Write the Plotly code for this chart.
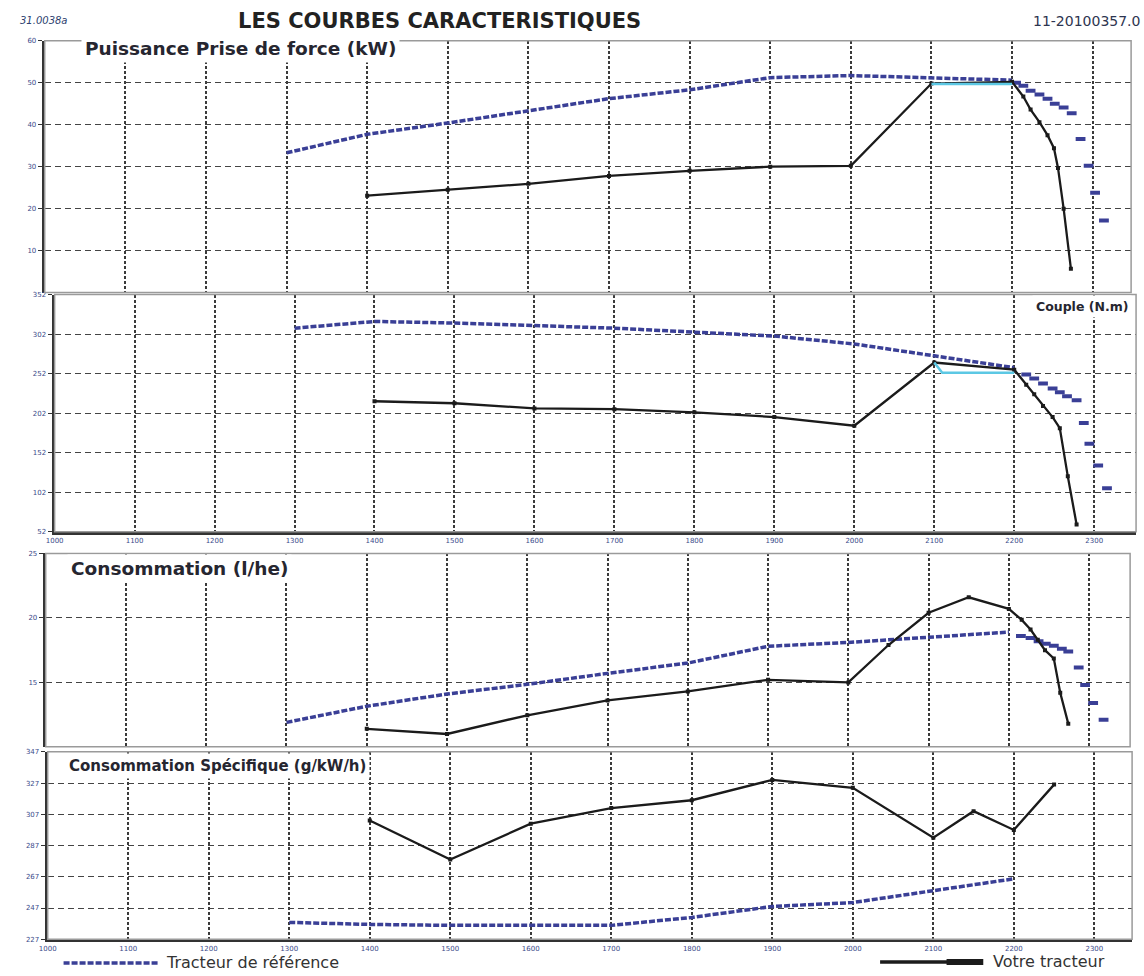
import plotly.graph_objects as go

W, H = 1144, 976

# ---------------- data ----------------
x_ticks = [1000, 1100, 1200, 1300, 1400, 1500, 1600, 1700, 1800, 1900, 2000, 2100, 2200, 2300]

# Panel 1 : Puissance Prise de force (kW)
p_ref_rpm = [1300, 1400, 1500, 1600, 1700, 1800, 1900, 2000, 2100, 2200,
             2205, 2214, 2223, 2234, 2244, 2253, 2264, 2274, 2285, 2295, 2303, 2314]
p_ref_val = [33.3, 37.7, 40.4, 43.2, 46.2, 48.3, 51.2, 51.7, 51.2, 50.6,
             50.0, 49.3, 48.1, 47.2, 46.2, 45.0, 44.1, 42.7, 36.6, 30.2, 23.8, 17.2]
p_you_rpm = [1400, 1500, 1600, 1700, 1800, 1900, 2000, 2100, 2200,
             2214, 2223, 2234, 2244, 2252, 2257, 2264, 2273]
p_you_val = [23.1, 24.5, 25.9, 27.8, 29.0, 30.0, 30.2, 49.8, 50.2,
             46.7, 43.6, 40.6, 37.5, 34.4, 29.7, 20.0, 5.7]
p_reg_rpm = [2100, 2200]
p_reg_val = [49.7, 49.7]

# Panel 2 : Couple (N.m)
c_ref_rpm = [1300, 1400, 1500, 1600, 1700, 1800, 1900, 2000, 2100, 2200,
             2215, 2225, 2236, 2248, 2257, 2266, 2278, 2287, 2294, 2305, 2316]
c_ref_val = [309.5, 318, 316, 313, 309.5, 304.5, 299.5, 289.5, 274.5, 259.5,
             250.8, 245.8, 239.5, 233.3, 228.3, 223.3, 218.3, 189.5, 163.3, 135.8, 107]
c_you_rpm = [1400, 1500, 1600, 1700, 1800, 1900, 2000, 2100, 2200,
             2215, 2225, 2236, 2248, 2257, 2267, 2278]
c_you_val = [217, 214.5, 208, 207, 203, 197, 186, 266, 257,
             238, 226, 211, 197, 183, 122, 61]
c_reg_rpm = [2100, 2110, 2200]
c_reg_val = [266, 253, 253]

# Panel 3 : Consommation (l/he)
l_ref_rpm = [1300, 1400, 1500, 1600, 1700, 1800, 1900, 2000, 2100, 2200,
             2215, 2227, 2237, 2246, 2256, 2266, 2274, 2287, 2295, 2305, 2318]
l_ref_val = [11.9, 13.15, 14.1, 14.85, 15.7, 16.5, 17.8, 18.1, 18.5, 18.9,
             18.6, 18.45, 18.2, 18.0, 17.85, 17.6, 17.4, 16.15, 14.8, 13.4, 12.1]
l_you_rpm = [1400, 1500, 1600, 1700, 1800, 1900, 2000, 2050, 2100, 2150, 2200,
             2216, 2227, 2236, 2245, 2256, 2264, 2274]
l_you_val = [11.4, 11.0, 12.45, 13.6, 14.3, 15.2, 15.0, 17.9, 20.4, 21.6, 20.7,
             19.85, 19.1, 18.3, 17.5, 16.85, 14.2, 11.8]

# Panel 4 : Consommation Spécifique (g/kW/h)
s_ref_rpm = [1300, 1400, 1500, 1600, 1700, 1800, 1900, 2000, 2100, 2200]
s_ref_val = [237.8, 236.5, 235.9, 235.9, 235.9, 241, 248, 250.5, 258, 265.7]
s_you_rpm = [1400, 1500, 1600, 1700, 1800, 1900, 2000, 2100, 2150, 2200, 2250]
s_you_val = [303, 278, 301, 311, 316, 329, 324, 292, 309, 297, 326]

p_yticks = [10, 20, 30, 40, 50, 60]
c_yticks = [52, 102, 152, 202, 252, 302, 352]
l_yticks = [15, 20, 25]
s_yticks = [227, 247, 267, 287, 307, 327, 347]

panel_titles = ["Puissance Prise de force (kW)", "Couple (N.m)",
                "Consommation (l/he)", "Consommation Spécifique (g/kW/h)"]

# ---------------- style ----------------
REF = "#3a3f96"
YOU = "#1b1b1b"
REG = "#5cc8e4"
FONT = "DejaVu Sans, Liberation Sans, Arial, sans-serif"
TICKC = "#3a4a8a"

panels = [
    dict(x0=36, x1=1131, scale=0.8125, ytop=37, ybot=291, yr=[0, 60], ytv=p_yticks, xlab=False,
         ref=(p_ref_rpm, p_ref_val), you=(p_you_rpm, p_you_val), reg=(p_reg_rpm, p_reg_val)),
    dict(x0=46, x1=1136, scale=0.806, ytop=293, ybot=532, yr=[52, 352], ytv=c_yticks, xlab=True,
         ref=(c_ref_rpm, c_ref_val), you=(c_you_rpm, c_you_val), reg=(c_reg_rpm, c_reg_val)),
    dict(x0=37, x1=1130, scale=0.809, ytop=554, ybot=749, yr=[10, 25], ytv=l_yticks, xlab=False,
         ref=(l_ref_rpm, l_ref_val), you=(l_you_rpm, l_you_val), reg=None),
    dict(x0=39, x1=1132, scale=0.8115, ytop=754, ybot=943, yr=[227, 347], ytv=s_yticks, xlab=True,
         ref=(s_ref_rpm, s_ref_val), you=(s_you_rpm, s_you_val), reg=None),
]

fig = go.Figure()
layout = dict(
    width=W, height=H, margin=dict(l=0, r=0, t=0, b=0),
    paper_bgcolor="white", plot_bgcolor="white", showlegend=False,
    font=dict(family=FONT, color="#222"),
)
shapes = []
annotations = []


def px_x(p):
    return p / W


def px_y(p):
    return 1 - p / H


for i, pn in enumerate(panels):
    n = "" if i == 0 else str(i + 1)
    xa, ya = "x" + n, "y" + n
    xmax = 1000 + (pn["x1"] - pn["x0"]) / pn["scale"]
    layout["xaxis" + n] = dict(
        domain=[px_x(pn["x0"]), px_x(pn["x1"])], range=[1000, xmax], anchor=ya,
        tickvals=x_ticks, ticktext=[str(v) for v in x_ticks], showticklabels=pn["xlab"],
        tickfont=dict(size=7, color=TICKC, family=FONT),
        showgrid=True, gridcolor="#3a3a3a", gridwidth=1.8, griddash="3px,2px",
        showline=pn["xlab"], linecolor="#333", linewidth=3, ticks="", zeroline=False,
        fixedrange=True,
    )
    layout["yaxis" + n] = dict(
        domain=[px_y(pn["ybot"]), px_y(pn["ytop"])], range=pn["yr"], anchor=xa,
        tickvals=pn["ytv"], ticktext=[str(v) for v in pn["ytv"]],
        tickfont=dict(size=7, color=TICKC, family=FONT),
        showgrid=True, gridcolor="#444", gridwidth=1.3, griddash="6px,4px",
        showline=True, linecolor="#333", linewidth=3, ticks="outside", ticklen=4,
        tickcolor="#333", tickwidth=1, zeroline=False, fixedrange=True,
    )
    # frame (top / right / bottom)
    shapes.append(dict(type="rect", xref=xa + " domain", yref=ya + " domain",
                       x0=0, x1=1, y0=0, y1=1, line=dict(color="#9a9a9a", width=1.5),
                       layer="above"))

    rr, rv = pn["ref"]
    main_x = [r for r in rr if r <= 2200]
    main_y = [v for r, v in zip(rr, rv) if r <= 2200]
    tail_x = [r for r in rr if r > 2200]
    tail_y = [v for r, v in zip(rr, rv) if r > 2200]
    fig.add_trace(go.Scatter(x=main_x, y=main_y, mode="lines", xaxis=xa, yaxis=ya,
                             line=dict(color=REF, width=3.5, dash="6px,2px"),
                             name="Tracteur de référence"))
    if tail_x:
        fig.add_trace(go.Scatter(x=tail_x, y=tail_y, mode="markers", xaxis=xa, yaxis=ya,
                                 marker=dict(symbol="line-ew", size=7,
                                             line=dict(color=REF, width=4)),
                                 name="Tracteur de référence"))
    yx, yv = pn["you"]
    fig.add_trace(go.Scatter(x=yx, y=yv, mode="lines+markers", xaxis=xa, yaxis=ya,
                             line=dict(color=YOU, width=2.3),
                             marker=dict(symbol="square", size=4, color=YOU),
                             name="Votre tracteur"))
    if pn["reg"]:
        gx, gv = pn["reg"]
        fig.add_trace(go.Scatter(x=gx, y=gv, mode="lines", xaxis=xa, yaxis=ya,
                                 line=dict(color=REG, width=2.5), name="Régulation"))

# panel titles
title_pos = [
    dict(x=73, y=45, xanchor="left", size=18.5),
    dict(x=1132, y=305, xanchor="right", size=12.5),
    dict(x=58, y=569, xanchor="left", size=18.5),
    dict(x=56, y=768, xanchor="left", size=15),
]
for t, pos in zip(panel_titles, title_pos):
    annotations.append(dict(
        text="<b>%s</b>" % t, xref="paper", yref="paper",
        x=px_x(pos["x"]), y=px_y(pos["y"]), xanchor=pos["xanchor"], yanchor="middle",
        showarrow=False, font=dict(size=pos["size"], color="#262630", family=FONT),
        bgcolor="white", borderpad=3,
    ))

# header
annotations += [
    dict(text="<b>LES COURBES CARACTERISTIQUES</b>", xref="paper", yref="paper",
         x=px_x(434), y=px_y(17), xanchor="center", yanchor="middle", showarrow=False,
         font=dict(size=21, color="#222", family=FONT)),
    dict(text="<i>31.0038a</i>", xref="paper", yref="paper",
         x=px_x(9), y=px_y(17), xanchor="left", yanchor="middle", showarrow=False,
         font=dict(size=10, color="#2d3f6f", family=FONT)),
    dict(text="11-20100357.0", xref="paper", yref="paper",
         x=px_x(1142), y=px_y(17), xanchor="right", yanchor="middle", showarrow=False,
         font=dict(size=14, color="#2d3550", family=FONT)),
    dict(text="Tracteur de référence", xref="paper", yref="paper",
         x=px_x(156), y=px_y(966), xanchor="left", yanchor="middle", showarrow=False,
         font=dict(size=16, color="#333", family=FONT)),
    dict(text="Votre tracteur", xref="paper", yref="paper",
         x=px_x(990), y=px_y(965), xanchor="left", yanchor="middle", showarrow=False,
         font=dict(size=16, color="#333", family=FONT)),
]

# legend samples
shapes += [
    dict(type="line", xref="paper", yref="paper", x0=px_x(55), x1=px_x(150),
         y0=px_y(967), y1=px_y(967), line=dict(color=REF, width=3.5, dash="6px,2px")),
    dict(type="line", xref="paper", yref="paper", x0=px_x(878), x1=px_x(955),
         y0=px_y(966), y1=px_y(966), line=dict(color=YOU, width=3.5)),
    dict(type="line", xref="paper", yref="paper", x0=px_x(945), x1=px_x(982),
         y0=px_y(966), y1=px_y(966), line=dict(color=YOU, width=6)),
]

layout["shapes"] = shapes
layout["annotations"] = annotations
fig.update_layout(**layout)
fig.write_html("out.html", config={"displayModeBar": False},
               post_script="document.body.style.margin='0px';document.body.style.padding='0px';"
                           "document.body.style.overflow='hidden';")
